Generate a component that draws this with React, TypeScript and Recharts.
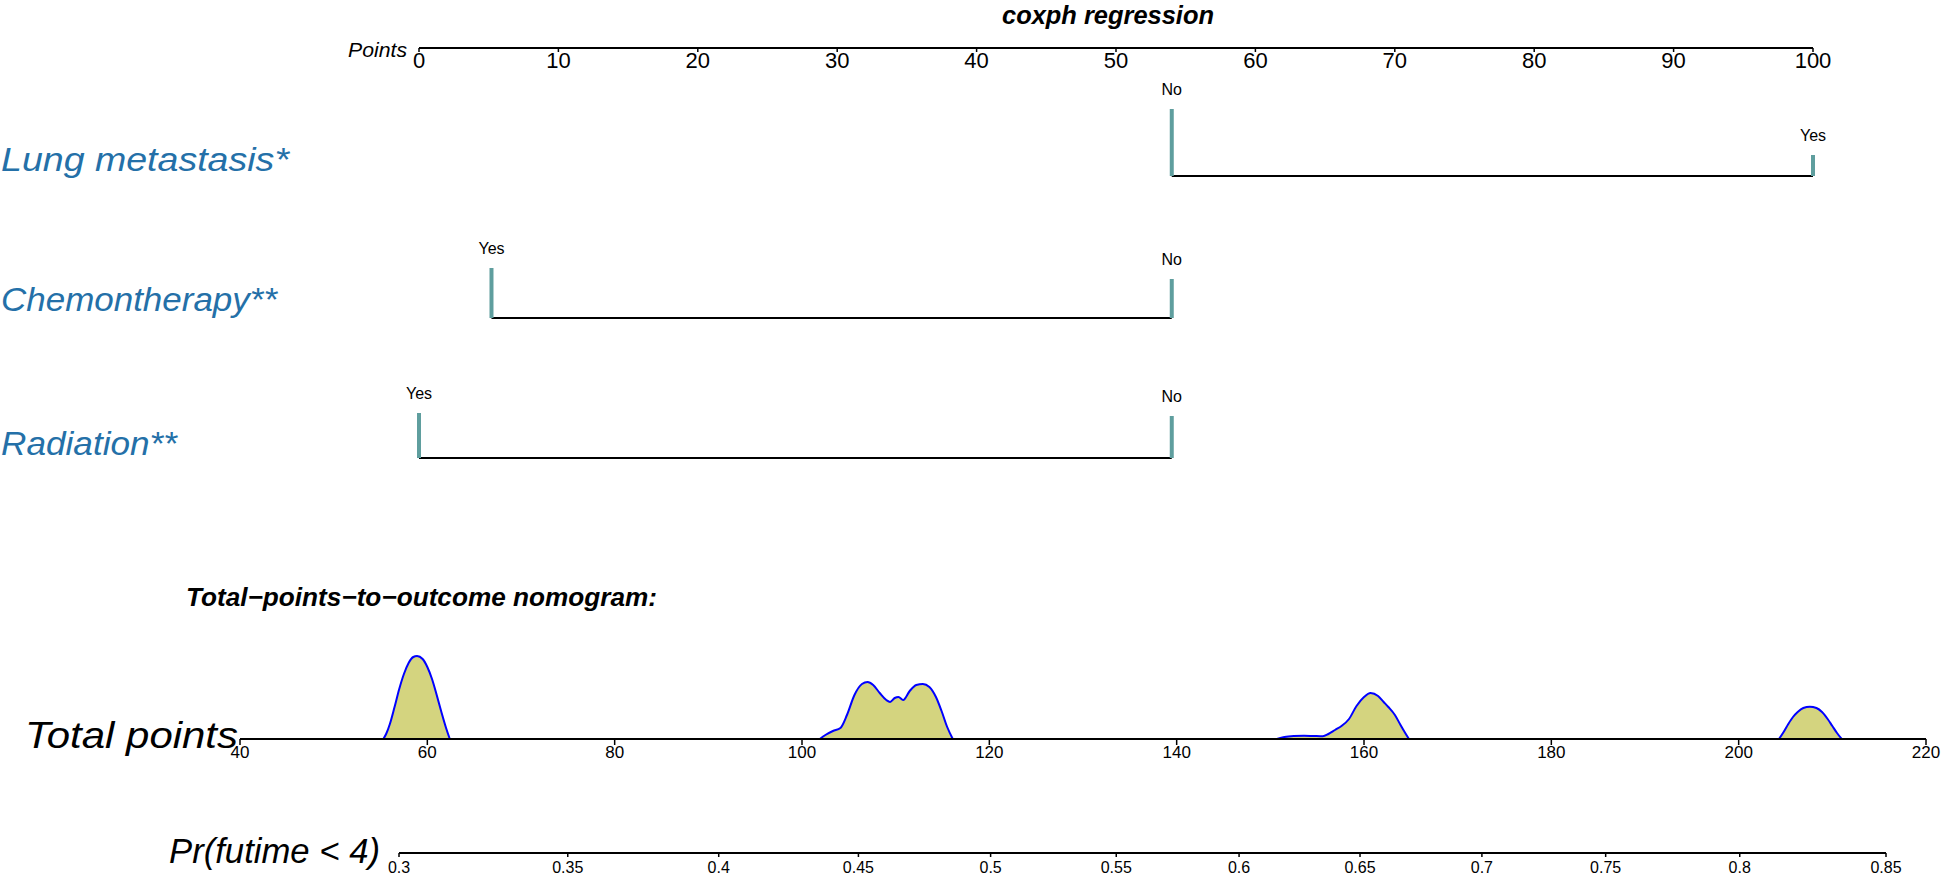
import React from 'react';
import { ComposedChart, Line, Area, XAxis, YAxis } from 'recharts';

const FONT = '"Liberation Sans", Arial, Helvetica, sans-serif';
const LABEL_BLUE = '#2470a8';
const SPIKE = '#5f9e9e';

// ---- Points scale ----
const pointsTicks = [0, 10, 20, 30, 40, 50, 60, 70, 80, 90, 100];

// ---- Predictors (points per level, relative frequency spike heights) ----
const lungLevels = ['No', 'Yes'];
const lungPoints = [54, 100];
const lungFreq = [67, 21];

const chemoLevels = ['Yes', 'No'];
const chemoPoints = [5.2, 54];
const chemoFreq = [50, 39];

const radiationLevels = ['Yes', 'No'];
const radiationPoints = [0, 54];
const radiationFreq = [45, 42];

// ---- Total points scale + density ----
const totalTicks = [40, 60, 80, 100, 120, 140, 160, 180, 200, 220];
const densityX = [
  55.3, 55.6, 56.0, 56.5, 57.0, 57.5, 58.0, 58.5, 58.9, 59.5, 60.0, 60.5, 61.0, 61.5, 62.0, 62.4,
  80,
  101.9, 102.5, 103.3, 104.1, 104.8, 105.6, 106.4, 107.0, 107.6, 108.3, 109.0, 109.4, 109.9, 110.3, 110.8, 111.5, 112.2, 112.9, 113.6, 114.3, 114.9, 115.5, 116.1,
  130,
  150.7, 151.5, 152.5, 153.6, 154.6, 155.6, 156.2, 156.9, 157.6, 158.4, 159.2, 160.0, 160.7, 161.5, 162.1, 162.6, 163.3, 163.9, 164.4, 164.8,
  185,
  204.3, 204.8, 205.3, 205.8, 206.3, 206.9, 207.6, 208.3, 208.9, 209.5, 210.0, 210.5, 211.0,
];
const densityY: (number | null)[] = [
  0, 5, 15, 32, 50, 65, 76, 82, 83, 80, 72, 60, 44, 27, 11, 0,
  null,
  0, 4, 8, 11, 24, 44, 55, 57, 54, 46, 39, 37, 41, 42, 39, 48, 54, 55, 52, 42, 28, 12, 0,
  null,
  0, 2, 3, 3.3, 3, 2.7, 5, 9, 13, 20, 33, 42, 46, 43, 37, 32, 24, 14, 6, 0,
  null,
  0, 7, 15, 22, 27, 31, 32.3, 31, 27, 20, 13, 6, 0,
];

// ---- Probability scale (labels and their total-points positions) ----
const prLabels = ['0.3', '0.35', '0.4', '0.45', '0.5', '0.55', '0.6', '0.65', '0.7', '0.75', '0.8', '0.85'];
const prAtTotal = [56.7, 74.7, 90.8, 105.7, 119.8, 133.2, 146.3, 159.2, 172.2, 185.4, 199.7, 215.3];

function PredictorRow(props: { top: number; levels: string[]; points: number[]; freq: number[] }) {
  const { top, levels, points, freq } = props;
  const seg = [
    { x: Math.min(...points), y: 0 },
    { x: Math.max(...points), y: 0 },
  ];
  return (
    <div style={{ position: 'absolute', left: 389, top, width: 1454, height: 110 }}>
      <ComposedChart width={1454} height={110} margin={{ top: 30, right: 30, bottom: 10, left: 30 }}>
        <XAxis type="number" dataKey="x" domain={[0, 100]} hide />
        <YAxis type="number" domain={[0, 70]} hide />
        <Line data={seg} dataKey="y" type="linear" stroke="#000" strokeWidth={2} dot={false} activeDot={false} isAnimationActive={false} />
        {levels.map((lv, i) => (
          <Line
            key={lv}
            data={[{ x: points[i], y: 0 }, { x: points[i], y: freq[i] }]}
            dataKey="y"
            type="linear"
            stroke={SPIKE}
            strokeWidth={4}
            dot={false}
            activeDot={false}
            isAnimationActive={false}
            label={(p: any) =>
              p.value > 0 ? (
                <text key={'l' + lv} x={p.x} y={p.y - 14} textAnchor="middle" fontSize={16} fontFamily={FONT} fill="#000">
                  {lv}
                </text>
              ) : (
                <g key={'e' + lv + p.index} />
              )
            }
          />
        ))}
      </ComposedChart>
    </div>
  );
}

export default function App() {
  const densityData = densityX.map((x, i) => ({ tp: x, d: densityY[i] }));
  const pointsData = pointsTicks.map((v) => ({ x: v, y: 0 }));
  const prData = prAtTotal.map((t) => ({ tp: t, v: 0 }));
  const axisStyle = { stroke: '#000', strokeWidth: 2 };

  return (
    <div style={{ position: 'absolute', left: 0, top: 0, width: 1946, height: 875, background: '#fff', overflow: 'hidden' }}>
      {/* Points axis */}
      <div style={{ position: 'absolute', left: 389, top: 38 }}>
        <ComposedChart width={1454} height={40} data={pointsData} margin={{ top: 0, right: 30, bottom: 0, left: 30 }}>
          <XAxis
            type="number"
            dataKey="x"
            domain={[0, 100]}
            ticks={pointsTicks}
            interval={0}
            height={30}
            tickSize={4}
            tickMargin={0}
            axisLine={axisStyle}
            tickLine={{ stroke: '#000', strokeWidth: 1.5 }}
            tick={{ fontSize: 22, fill: '#000', fontFamily: FONT }}
          />
          <YAxis hide domain={[0, 1]} />
          <Line dataKey="y" stroke="none" dot={false} activeDot={false} isAnimationActive={false} />
        </ComposedChart>
      </div>

      <PredictorRow top={75.5} levels={lungLevels} points={lungPoints} freq={lungFreq} />
      <PredictorRow top={217.5} levels={chemoLevels} points={chemoPoints} freq={chemoFreq} />
      <PredictorRow top={358} levels={radiationLevels} points={radiationPoints} freq={radiationFreq} />

      {/* Total points axis with density */}
      <div style={{ position: 'absolute', left: 210, top: 639 }}>
        <ComposedChart width={1746} height={130} data={densityData} margin={{ top: 0, right: 30, bottom: 0, left: 30 }}>
          <XAxis
            type="number"
            dataKey="tp"
            domain={[40, 220]}
            ticks={totalTicks}
            interval={0}
            height={30}
            tickSize={6}
            tickMargin={1}
            axisLine={axisStyle}
            tickLine={{ stroke: '#000', strokeWidth: 1.5 }}
            tick={{ fontSize: 17, fill: '#000', fontFamily: FONT }}
          />
          <YAxis type="number" hide domain={[0, 100]} />
          <Area
            type="monotone"
            dataKey="d"
            stroke="#0000ff"
            strokeWidth={2}
            fill="#d4d47f"
            fillOpacity={1}
            connectNulls={false}
            dot={false}
            activeDot={false}
            isAnimationActive={false}
          />
        </ComposedChart>
      </div>

      {/* Probability axis */}
      <div style={{ position: 'absolute', left: 369, top: 843 }}>
        <ComposedChart width={1547} height={32} data={prData} margin={{ top: 0, right: 30, bottom: 0, left: 30 }}>
          <XAxis
            type="number"
            dataKey="tp"
            domain={[prAtTotal[0], prAtTotal[prAtTotal.length - 1]]}
            ticks={prAtTotal}
            interval={0}
            height={22}
            tickSize={4}
            tickMargin={5}
            allowDataOverflow
            axisLine={axisStyle}
            tickLine={{ stroke: '#000', strokeWidth: 1.5 }}
            tick={{ fontSize: 16, fill: '#000', fontFamily: FONT }}
            tickFormatter={(v: number, i: number) => prLabels[i] ?? prLabels[prAtTotal.indexOf(v)]}
          />
          <YAxis hide domain={[0, 1]} />
          <Line dataKey="v" stroke="none" dot={false} activeDot={false} isAnimationActive={false} />
        </ComposedChart>
      </div>

      {/* Text labels */}
      <svg width={1946} height={875} style={{ position: 'absolute', left: 0, top: 0, pointerEvents: 'none' }}>
        <text x={1108} y={24} textAnchor="middle" fontSize={26} fontWeight="bold" fontStyle="italic" fontFamily={FONT} fill="#000" textLength={212} lengthAdjust="spacingAndGlyphs">
          coxph regression
        </text>
        <text x={407} y={57} textAnchor="end" fontSize={21} fontStyle="italic" fontFamily={FONT} fill="#000" textLength={59} lengthAdjust="spacingAndGlyphs">
          Points
        </text>
        <text x={1} y={171} fontSize={33} fontStyle="italic" fontFamily={FONT} fill={LABEL_BLUE} textLength={288} lengthAdjust="spacingAndGlyphs">
          Lung metastasis*
        </text>
        <text x={1} y={311} fontSize={33} fontStyle="italic" fontFamily={FONT} fill={LABEL_BLUE} textLength={276} lengthAdjust="spacingAndGlyphs">
          Chemontherapy**
        </text>
        <text x={1} y={455} fontSize={33} fontStyle="italic" fontFamily={FONT} fill={LABEL_BLUE} textLength={176} lengthAdjust="spacingAndGlyphs">
          Radiation**
        </text>
        <text x={186} y={606} fontSize={26} fontWeight="bold" fontStyle="italic" fontFamily={FONT} fill="#000" textLength={471} lengthAdjust="spacingAndGlyphs">
          Total−points−to−outcome nomogram:
        </text>
        <text x={25} y={748} fontSize={36} fontStyle="italic" fontFamily={FONT} fill="#000" textLength={213} lengthAdjust="spacingAndGlyphs">
          Total points
        </text>
        <text x={169} y={863} fontSize={35} fontStyle="italic" fontFamily={FONT} fill="#000" textLength={211} lengthAdjust="spacingAndGlyphs">
          Pr(futime &lt; 4)
        </text>
      </svg>
    </div>
  );
}
